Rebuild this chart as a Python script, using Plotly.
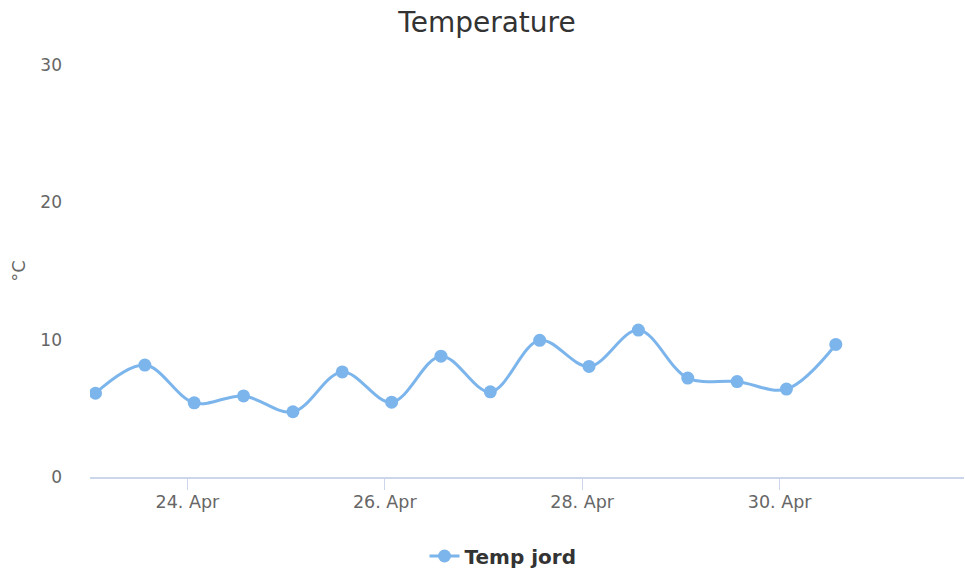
import plotly.graph_objects as go

times = [
    "2024-04-23 01:40", "2024-04-23 13:40",
    "2024-04-24 01:40", "2024-04-24 13:40",
    "2024-04-25 01:40", "2024-04-25 13:40",
    "2024-04-26 01:40", "2024-04-26 13:40",
    "2024-04-27 01:40", "2024-04-27 13:40",
    "2024-04-28 01:40", "2024-04-28 13:40",
    "2024-04-29 01:40", "2024-04-29 13:40",
    "2024-04-30 01:40", "2024-04-30 13:40",
]
temp_jord = [6.1, 8.15, 5.4, 5.9, 4.75, 7.65, 5.45, 8.8,
             6.2, 9.95, 8.05, 10.7, 7.2, 6.95, 6.4, 9.65]

tick_vals = ["2024-04-24", "2024-04-26", "2024-04-28", "2024-04-30"]
tick_text = ["24. Apr", "26. Apr", "28. Apr", "30. Apr"]
y_ticks = [0, 10, 20, 30]

font = "DejaVu Sans, Verdana, sans-serif"

fig = go.Figure()
fig.add_trace(go.Scatter(
    x=times, y=temp_jord, name="Temp jord",
    mode="lines+markers",
    line=dict(color="#7cb5ec", width=3, shape="spline", smoothing=1.0),
    marker=dict(color="#7cb5ec", size=13),
))

fig.update_layout(
    width=965, height=568,
    margin=dict(l=90, r=1, t=65, b=91, autoexpand=False),
    paper_bgcolor="white", plot_bgcolor="white",
    font=dict(family=font, color="#666666"),
    title=dict(text="Temperature", x=487 / 965, xanchor="center",
               y=1 - 22 / 568, yanchor="middle",
               font=dict(family=font, size=28, color="#333333")),
    showlegend=True,
    legend=dict(orientation="h", x=(503 - 90) / 874, xanchor="center",
                y=(477 - 556) / 412, yanchor="middle",
                font=dict(family=font, size=20, color="#333333", weight="bold"),
                itemwidth=30),
    xaxis=dict(
        type="date",
        range=["2024-04-23 00:20", "2024-05-01 20:50"],
        tickvals=tick_vals, ticktext=tick_text,
        showgrid=False, zeroline=False,
        showline=True, linecolor="#ccd6eb", linewidth=1.5,
        ticks="outside", ticklen=11, tickcolor="#ccd6eb", tickwidth=1,
        ticklabelstandoff=-3, automargin=False,
        tickfont=dict(family=font, size=17.5, color="#666666"),
    ),
    yaxis=dict(
        range=[0, 30], tickvals=y_ticks,
        showgrid=False, zeroline=False, showline=False,
        ticks="", ticklabelstandoff=27, automargin=False,
        tickfont=dict(family=font, size=17, color="#666666"),
        title=dict(text="°C", standoff=10,
                   font=dict(family=font, size=18, color="#666666")),
    ),
)

fig.write_html("out.html", config={"displayModeBar": False},
               post_script="document.body.style.margin='0';document.body.style.overflow='hidden';")
